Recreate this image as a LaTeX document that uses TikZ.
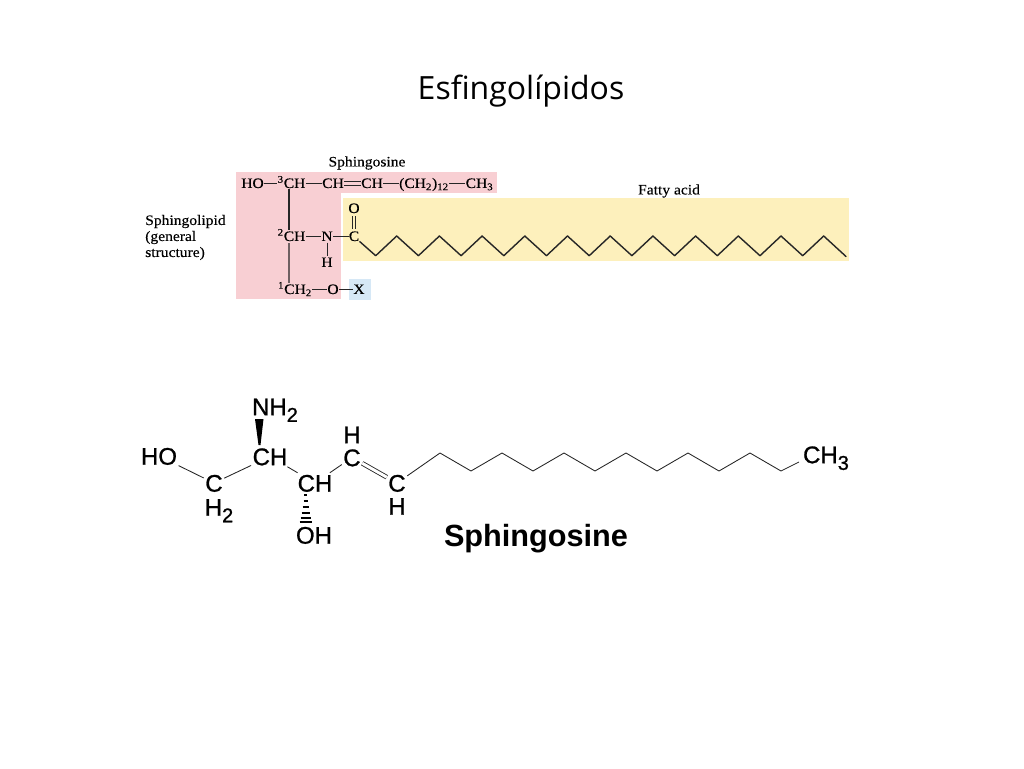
\documentclass[tikz,border=0pt]{standalone}
\usepackage{fontspec}
\setmainfont{Liberation Sans}
\newfontfamily\textbookfont[FakeStretch=1.08, FakeBold=0.25]{Liberation Serif}
\newfontfamily\formulafont[FakeBold=1]{Liberation Sans}
\newfontfamily\titlefont{Open Sans}
\newcommand{\lowtwo}[1]{\raisebox{-5pt}{\fontsize{15}{15}\selectfont #1}}
\definecolor{sphpink}{HTML}{F8CFD3}
\definecolor{fayellow}{HTML}{FDF0BC}
\definecolor{xblue}{HTML}{D6E8F6}
\tikzset{
    toplbl/.style={font=\textbookfont\fontsize{10.8}{12}\selectfont, inner sep=0pt, text height=9.2pt, text depth=2.5pt},
    plainlbl/.style={font=\textbookfont\fontsize{10.8}{12}\selectfont, inner sep=0pt},
    botlbl/.style={font=\formulafont\fontsize{18}{20}\selectfont, inner xsep=1pt, inner ysep=0pt, text height=14pt, text depth=1pt},
    bond/.style={line width=1.05pt, black!85},
    thinbond/.style={line width=.65pt, black!85}
}
\begin{document}
\begin{tikzpicture}[x=.75pt, y=-.75pt]
    \useasboundingbox (0, 0) rectangle (1024, 768);

    \node[font=\titlefont\fontsize{24}{28}\selectfont, inner sep=0pt](title) at(521, 91){Esfingolípidos};

    %%boxes
    \fill[sphpink] (236, 172) rectangle (341, 299);
    \fill[sphpink] (236, 172) rectangle (497, 193);
    \fill[fayellow] (343, 198) rectangle (849, 261);
    \fill[xblue] (349, 279) rectangle (371, 300);

    %%top labels
    \node[plainlbl](sph) at(367, 163){Sphingosine};
    \node[plainlbl](fatty) at(669, 191){Fatty acid};
    \node[plainlbl, align=left, anchor=west, font=\textbookfont\fontsize{10.8}{12}\selectfont](lipid) at(145, 237.5){Sphingolipid\\(general\\structure)};

    %%top formula
    \node[toplbl](ho) at(252.5, 183.5){HO};
    \node[toplbl](ca) at(291.5, 183.5){\textsuperscript{3}CH};
    \node[toplbl](cb) at(333, 183.5){CH};
    \node[toplbl](cc) at(372, 183.5){CH};
    \node[toplbl](cd) at(424, 183.5){(CH\textsubscript{2})\textsubscript{12}};
    \node[toplbl](ce) at(479.5, 183.5){CH\textsubscript{3}};
    \node[toplbl](cf) at(291.5, 236.5){\textsuperscript{2}CH};
    \node[toplbl](nn) at(327, 236.5){N};
    \node[toplbl](cg) at(354, 236.5){C};
    \node[toplbl](oo) at(354, 208.5){O};
    \node[toplbl](hh) at(327, 262.5){H};
    \node[toplbl](ci) at(295, 289.5){\textsuperscript{1}CH\textsubscript{2}};
    \node[toplbl](ox) at(333, 289.5){O};
    \node[toplbl](xx) at(359, 289.5){X};

    \draw[bond] (ho) -- (ca);
    \draw[bond] (ca) -- (cb);
    \draw[bond, double=sphpink, double distance=1.6pt] (cb) -- (cc);
    \draw[bond] (cc) -- (cd);
    \draw[bond] (cd) -- (ce);
    \draw[bond] ([xshift=-1.9pt, yshift=2pt]ca.south) -- ([xshift=-1.9pt, yshift=-1pt]cf.north);
    \draw[bond] ([xshift=-1.9pt, yshift=1pt]cf.south) -- ([xshift=-4.5pt, yshift=-1pt]ci.north);
    \draw[bond] (cf) -- (nn);
    \draw[bond] (nn) -- (cg);
    \draw[bond, line width=.7pt] ([yshift=1.5pt]nn.south) -- ([yshift=-1.5pt]hh.north);
    \draw[bond, line width=.5pt, double=fayellow, double distance=1.6pt] ([yshift=-.5pt]cg.north) -- ([yshift=.5pt]oo.south);
    \draw[bond] (ci) -- (ox);
    \draw[bond] (ox) -- (xx);

    %%fatty acid chain
    \foreach \i in {0,...,10}{
        \coordinate (low\i) at(375.7 + 42.7*\i, 255.7);
        \coordinate (high\i) at(396.7 + 42.7*\i, 236);
    }
    \coordinate (fatend) at(846, 256.5);
    \draw[bond] (cg) -- (low0);
    \foreach \i in {0,...,10}{
        \draw[bond, line cap=round] (low\i) -- (high\i);
    }
    \foreach \i [count=\j from 1] in {0,...,9}{
        \draw[bond, line cap=round] (high\i) -- (low\j);
    }
    \draw[bond, line cap=round] (high10) -- (fatend);

    %%bottom formula
    \node[botlbl](bho) at(159, 456){HO};
    \node[botlbl](bca) at(214, 483){C};
    \node[botlbl](bha) at(219, 507){H\lowtwo{2}};
    \node[botlbl](bcb) at(270, 456.5){CH};
    \node[botlbl](bnh) at(275, 406.5){NH\lowtwo{2}};
    \node[botlbl](bcc) at(315, 483){CH};
    \node[botlbl](boh) at(314, 535){OH};
    \node[botlbl](bcd) at(352, 457.5){C};
    \node[botlbl](bhd) at(352, 434.5){H};
    \node[botlbl](bce) at(397, 483){C};
    \node[botlbl](bhe) at(397, 506){H};
    \node[botlbl](bme) at(826, 454.5){CH\lowtwo{3}};
    \node[font=\bfseries\fontsize{23}{25}\selectfont, inner sep=0pt](bname) at(536, 539){Sphingosine};

    \draw[thinbond] (bho) -- (bca);
    \draw[thinbond] (bca) -- (bcb);
    \draw[thinbond] (bcb) -- (bcc);
    \draw[thinbond] (bcc) -- (bcd);
    \draw[thinbond, double=white, double distance=2.2pt] (bcd) -- (bce);

    %%wedges
    \fill[black] (255, 419) -- (263.5, 419) -- (260.5, 445) -- (258.5, 445) -- cycle;
    \foreach \hy/\hw in {495/1.5, 501/2, 507/3, 513/4, 518/5, 522/6}{
        \draw[line width=1.1pt] (305.5-\hw, \hy) -- (305.5+\hw, \hy);
    }

    %%sphingosine chain
    \foreach \i in {0,...,5}{
        \coordinate (up\i) at(440 + 62*\i, 453);
        \coordinate (dn\i) at(471 + 62*\i, 471);
    }
    \coordinate (bend) at(799, 462);
    \draw[thinbond] (bce) -- (up0);
    \foreach \i in {0,...,5}{
        \draw[thinbond] (up\i) -- (dn\i);
    }
    \foreach \i [count=\j from 1] in {0,...,4}{
        \draw[thinbond] (dn\i) -- (up\j);
    }
    \draw[thinbond] (dn5) -- (bend);
\end{tikzpicture}
\end{document}
